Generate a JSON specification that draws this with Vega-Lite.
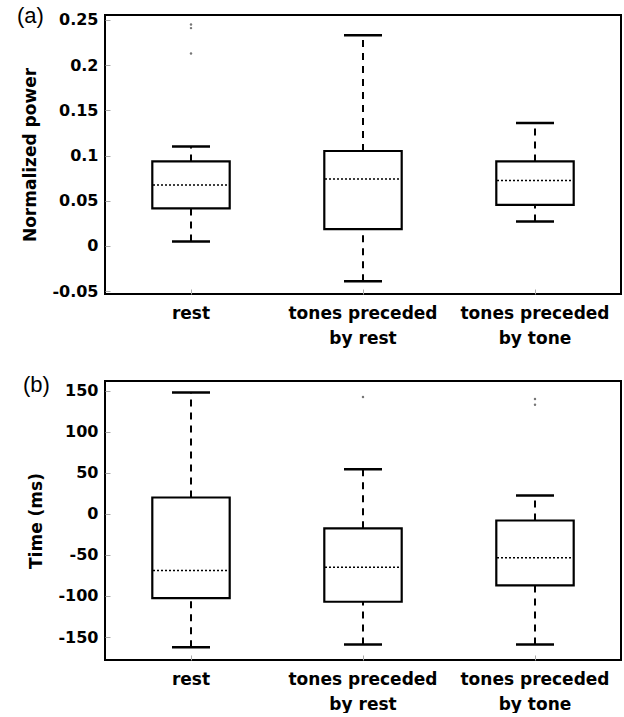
{
  "$schema": "https://vega.github.io/schema/vega-lite/v6.json",
  "padding": {"left": 15, "top": 3, "right": 0, "bottom": 0},
  "background": "white",
  "config": {
    "view": {"stroke": "#000", "strokeWidth": 2},
    "font": "DejaVu Sans",
    "axis": {
      "grid": false, "domain": false,
      "labelFont": "DejaVu Sans", "labelFontWeight": "bold", "labelColor": "#000",
      "titleFont": "DejaVu Sans", "titleFontWeight": "bold", "titleColor": "#000", "titleFontSize": 17,
      "tickColor": "#aaa", "tickSize": -5
    },
    "axisY": {"labelFontSize": 16, "labelPadding": 12, "titlePadding": 12},
    "axisX": {"labelFontSize": 17, "labelPadding": 16, "labelLineHeight": 25, "labelBaseline": "top", "labelAngle": 0},
    "title": {"font": "Liberation Sans", "fontSize": 22, "fontWeight": "normal", "color": "#000", "anchor": "start", "frame": "bounds"}
  },
  "datasets": {
    "powerStats": [
      {"cat": "rest", "lo": 0.005, "q1": 0.0415, "med": 0.0675, "q3": 0.0935, "hi": 0.110},
      {"cat": "tones preceded|by rest", "lo": -0.039, "q1": 0.0185, "med": 0.074, "q3": 0.105, "hi": 0.233},
      {"cat": "tones preceded|by tone", "lo": 0.027, "q1": 0.0455, "med": 0.0725, "q3": 0.0935, "hi": 0.136}
    ],
    "powerOutliers": [
      {"cat": "rest", "v": 0.213},
      {"cat": "rest", "v": 0.241},
      {"cat": "rest", "v": 0.245}
    ],
    "timeStats": [
      {"cat": "rest", "lo": -162.5, "q1": -102.5, "med": -69, "q3": 20, "hi": 148},
      {"cat": "tones preceded|by rest", "lo": -159, "q1": -107, "med": -65, "q3": -17.5, "hi": 54.5},
      {"cat": "tones preceded|by tone", "lo": -159, "q1": -87, "med": -53.5, "q3": -8, "hi": 22.5}
    ],
    "timeOutliers": [
      {"cat": "tones preceded|by rest", "v": 142.5},
      {"cat": "tones preceded|by tone", "v": 140},
      {"cat": "tones preceded|by tone", "v": 133}
    ]
  },
  "spacing": 26,
  "vconcat": [
    {
      "title": {"text": "(a)", "dx": -5, "dy": 20},
      "width": 516, "height": 279,
      "encoding": {
        "x": {"field": "cat", "type": "nominal", "sort": null, "title": null,
              "scale": {"paddingInner": 0, "paddingOuter": 0},
              "axis": {"labelExpr": "split(datum.label, '|')"}}
      },
      "layer": [
        {"data": {"name": "powerStats"},
         "mark": {"type": "rule", "strokeDash": [7, 6], "strokeWidth": 2, "color": "#000"},
         "encoding": {
           "y": {"field": "q3", "type": "quantitative", "title": "Normalized power",
                 "scale": {"domain": [-0.0532, 0.2555], "nice": false, "zero": false},
                 "axis": {"values": [-0.05, 0, 0.05, 0.1, 0.15, 0.2, 0.25], "labelExpr": "'' + datum.value"}},
           "y2": {"field": "hi"}}},
        {"data": {"name": "powerStats"},
         "mark": {"type": "rule", "strokeDash": [7, 6], "strokeWidth": 2, "color": "#000"},
         "encoding": {"y": {"field": "lo", "type": "quantitative", "title": "Normalized power"}, "y2": {"field": "q1"}}},
        {"data": {"name": "powerStats"},
         "mark": {"type": "bar", "width": {"band": 0.45}, "fill": "white", "stroke": "#000", "strokeWidth": 2.2},
         "encoding": {"y": {"field": "q1", "type": "quantitative", "title": "Normalized power"}, "y2": {"field": "q3"}}},
        {"data": {"name": "powerStats"},
         "mark": {"type": "rule", "strokeDash": [2, 2], "strokeWidth": 1.5, "color": "#000", "xOffset": -38, "x2Offset": 38},
         "encoding": {"x2": {"field": "cat"}, "y": {"field": "med", "type": "quantitative", "title": "Normalized power"}}},
        {"data": {"name": "powerStats"},
         "mark": {"type": "rule", "strokeWidth": 2.5, "color": "#000", "xOffset": -19, "x2Offset": 19},
         "encoding": {"x2": {"field": "cat"}, "y": {"field": "hi", "type": "quantitative", "title": "Normalized power"}}},
        {"data": {"name": "powerStats"},
         "mark": {"type": "rule", "strokeWidth": 2.5, "color": "#000", "xOffset": -19, "x2Offset": 19},
         "encoding": {"x2": {"field": "cat"}, "y": {"field": "lo", "type": "quantitative", "title": "Normalized power"}}},
        {"data": {"name": "powerOutliers"},
         "mark": {"type": "point", "filled": true, "size": 6, "color": "#777", "opacity": 1},
         "encoding": {"y": {"field": "v", "type": "quantitative", "title": "Normalized power"}}}
      ]
    },
    {
      "title": {"text": "(b)", "dx": -5, "dy": 20},
      "width": 516, "height": 279,
      "encoding": {
        "x": {"field": "cat", "type": "nominal", "sort": null, "title": null,
              "scale": {"paddingInner": 0, "paddingOuter": 0},
              "axis": {"labelExpr": "split(datum.label, '|')"}}
      },
      "layer": [
        {"data": {"name": "timeStats"},
         "mark": {"type": "rule", "strokeDash": [7, 6], "strokeWidth": 2, "color": "#000"},
         "encoding": {
           "y": {"field": "q3", "type": "quantitative", "title": "Time (ms)",
                 "scale": {"domain": [-178, 162], "nice": false, "zero": false},
                 "axis": {"values": [-150, -100, -50, 0, 50, 100, 150], "labelExpr": "'' + datum.value"}},
           "y2": {"field": "hi"}}},
        {"data": {"name": "timeStats"},
         "mark": {"type": "rule", "strokeDash": [7, 6], "strokeWidth": 2, "color": "#000"},
         "encoding": {"y": {"field": "lo", "type": "quantitative", "title": "Time (ms)"}, "y2": {"field": "q1"}}},
        {"data": {"name": "timeStats"},
         "mark": {"type": "bar", "width": {"band": 0.45}, "fill": "white", "stroke": "#000", "strokeWidth": 2.2},
         "encoding": {"y": {"field": "q1", "type": "quantitative", "title": "Time (ms)"}, "y2": {"field": "q3"}}},
        {"data": {"name": "timeStats"},
         "mark": {"type": "rule", "strokeDash": [2, 2], "strokeWidth": 1.5, "color": "#000", "xOffset": -38, "x2Offset": 38},
         "encoding": {"x2": {"field": "cat"}, "y": {"field": "med", "type": "quantitative", "title": "Time (ms)"}}},
        {"data": {"name": "timeStats"},
         "mark": {"type": "rule", "strokeWidth": 2.5, "color": "#000", "xOffset": -19, "x2Offset": 19},
         "encoding": {"x2": {"field": "cat"}, "y": {"field": "hi", "type": "quantitative", "title": "Time (ms)"}}},
        {"data": {"name": "timeStats"},
         "mark": {"type": "rule", "strokeWidth": 2.5, "color": "#000", "xOffset": -19, "x2Offset": 19},
         "encoding": {"x2": {"field": "cat"}, "y": {"field": "lo", "type": "quantitative", "title": "Time (ms)"}}},
        {"data": {"name": "timeOutliers"},
         "mark": {"type": "point", "filled": true, "size": 6, "color": "#777", "opacity": 1},
         "encoding": {"y": {"field": "v", "type": "quantitative", "title": "Time (ms)"}}}
      ]
    }
  ]
}
